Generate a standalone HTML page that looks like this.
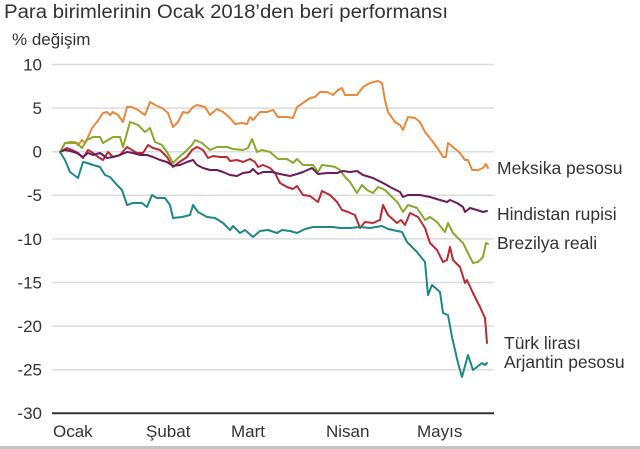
<!DOCTYPE html>
<html><head><meta charset="utf-8"><style>
html,body{margin:0;padding:0;background:#fff;}
svg{display:block;font-family:"Liberation Sans",Arial,sans-serif;}
</style></head><body>
<svg width="640" height="449" viewBox="0 0 640 449" xmlns="http://www.w3.org/2000/svg">
<rect width="640" height="449" fill="#fff"/>
<text x="4" y="18" font-size="19" fill="#333" textLength="444" lengthAdjust="spacingAndGlyphs">Para birimlerinin Ocak 2018’den beri performansı</text>
<text x="12" y="45" font-size="17" fill="#333">% değişim</text>
<g stroke="#dcdcdc" stroke-width="1.5">
<line x1="52" x2="494" y1="64.5" y2="64.5"/>
<line x1="52" x2="494" y1="108.1" y2="108.1"/>
<line x1="52" x2="494" y1="151.7" y2="151.7"/>
<line x1="52" x2="494" y1="195.3" y2="195.3"/>
<line x1="52" x2="494" y1="238.9" y2="238.9"/>
<line x1="52" x2="494" y1="282.5" y2="282.5"/>
<line x1="52" x2="494" y1="326.1" y2="326.1"/>
<line x1="52" x2="494" y1="369.7" y2="369.7"/>
</g>
<line x1="52" x2="494" y1="413.3" y2="413.3" stroke="#333" stroke-width="2"/>
<g font-size="17" fill="#333" text-anchor="end">
<text x="42" y="70.5">10</text>
<text x="42" y="114">5</text>
<text x="42" y="157.5">0</text>
<text x="42" y="201">-5</text>
<text x="42" y="245">-10</text>
<text x="42" y="288.5">-15</text>
<text x="42" y="332">-20</text>
<text x="42" y="375.5">-25</text>
<text x="42" y="419">-30</text>
</g>
<g font-size="17" fill="#333">
<text x="53" y="437">Ocak</text>
<text x="146" y="437">Şubat</text>
<text x="231" y="437">Mart</text>
<text x="326" y="437">Nisan</text>
<text x="417" y="437">Mayıs</text>
</g>
<g fill="none" stroke-width="2" stroke-linejoin="round" stroke-linecap="round">
<polyline stroke="#e8883a" points="60,152 65,143 70,142 75,142 78,145 82,140 85,143 88,137 92,128 97,122 103,113 107,112 110,115 113,112 118,115 123,122 127,107 132,107 138,110 145,115 150,102 155,105 162,108 168,113 173,127 178,122 183,112 188,113 193,107 197,105 205,107 210,115 217,109 223,112 230,118 235,124 242,123 247,124 250,117 253,120 260,112 267,112 273,110 278,117 287,117 293,118 297,107 303,103 310,98 315,97 320,92 327,92 333,95 338,90 342,88 345,95 357,95 363,87 370,83 378,81 382,83 385,100 388,112 395,122 400,125 403,130 408,117 415,118 420,122 425,132 433,142 440,152 443,157 446,157 448,143 453,147 460,153 465,160 468,160 472,170 478,170 483,168 486,164 488,168"/>
<polyline stroke="#bb2a33" points="60,152 67,148 72,150 78,153 83,158 88,150 93,153 98,157 103,160 108,152 113,157 120,155 127,147 132,150 137,153 143,153 148,145 153,148 160,150 167,157 173,167 178,163 187,157 192,150 197,147 203,150 208,158 213,156 220,157 227,157 230,161 237,160 243,162 250,159 255,162 258,167 263,165 270,168 275,173 280,183 287,187 293,189 297,186 303,195 310,196 318,202 322,191 330,195 337,202 342,210 348,212 355,215 360,228 365,222 373,223 380,220 383,205 388,215 397,223 401,220 405,225 410,213 418,217 425,228 430,243 437,250 443,262 447,260 450,247 453,260 460,267 465,283 467,280 473,293 480,307 485,318 487,343"/>
<polyline stroke="#88a92c" points="60,152 65,143 70,143 77,143 82,148 87,140 93,137 100,137 103,143 108,140 113,137 120,137 123,147 130,122 138,125 145,132 150,128 155,142 162,145 167,152 173,163 178,158 185,152 192,145 195,140 202,143 210,150 217,147 227,147 233,149 243,150 248,148 252,139 257,152 262,150 270,152 278,159 287,159 293,163 297,159 303,165 313,165 318,172 322,165 330,166 335,167 340,170 345,177 350,182 357,193 362,185 367,190 373,193 378,187 385,190 392,197 398,203 403,212 408,205 417,208 425,220 430,217 437,222 445,232 448,223 453,233 463,243 470,257 473,263 478,262 483,257 486,243 488,244"/>
<polyline stroke="#6b1b5b" points="60,152 65,150 70,151 77,153 83,157 88,153 93,155 100,153 107,158 113,157 120,155 127,152 133,153 140,155 147,155 153,157 160,160 167,162 173,166 180,165 187,162 193,160 197,165 203,168 210,170 217,170 223,172 230,175 237,176 243,173 250,172 253,169 258,174 263,172 272,172 280,174 290,176 297,174 303,172 312,168 318,174 327,173 337,173 343,171 350,172 357,171 363,175 373,178 383,183 392,188 400,192 403,197 408,195 420,195 430,197 440,200 447,202 450,200 457,203 463,207 465,212 470,208 477,210 483,212 487,211"/>
<polyline stroke="#1e8787" points="60,152 65,160 70,172 78,178 83,162 87,163 93,165 100,167 105,175 110,177 117,185 122,190 127,205 133,203 142,203 147,207 152,195 157,198 165,198 170,205 173,218 182,217 190,215 193,205 198,212 207,217 215,218 223,223 230,230 233,226 240,233 245,230 253,237 260,231 268,230 277,233 282,230 290,231 297,233 305,229 313,227 323,227 333,227 340,228 350,228 360,227 370,228 382,226 388,229 402,232 407,242 417,252 425,262 428,295 432,285 440,292 443,313 448,315 452,337 458,363 462,377 468,355 473,370 482,363 485,365 487,363"/>
</g>
<g font-size="17.5" fill="#333">
<text x="497" y="174">Meksika pesosu</text>
<text x="497" y="220">Hindistan rupisi</text>
<text x="497" y="249">Brezilya reali</text>
<text x="504" y="349">Türk lirası</text>
<text x="504" y="368">Arjantin pesosu</text>
</g>
<rect x="0" y="446" width="640" height="3" fill="#c4c4c4"/>
</svg>
</body></html>
